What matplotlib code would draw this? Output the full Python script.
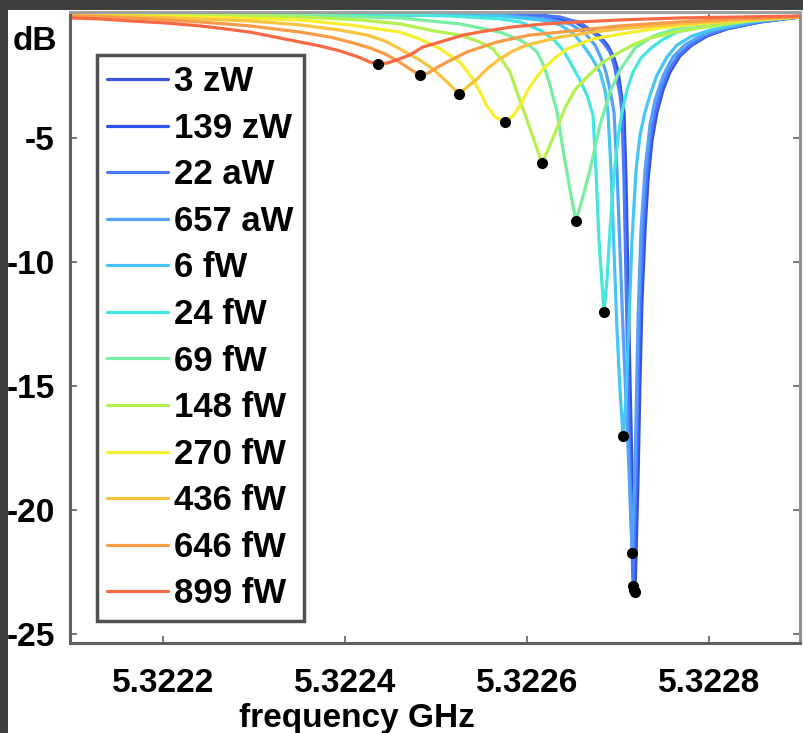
import matplotlib
matplotlib.use("Agg")
import matplotlib.pyplot as plt
from matplotlib.patches import Rectangle
import numpy as np

plt.rcParams['font.family'] = ['Liberation Sans', 'DejaVu Sans']
plt.rcParams['axes.unicode_minus'] = False

# frequencies stored as offset in kHz from 5.3222 GHz, transmission in dB
F_BASE = 5.3222

labels = ['3 zW', '139 zW', '22 aW', '657 aW', '6 fW', '24 fW', '69 fW',
          '148 fW', '270 fW', '436 fW', '646 fW', '899 fW']
colors = ['#3a55d8', '#3050f0', '#4a78f8', '#55a0f8', '#45c6f5', '#45e6e0',
          '#78eea0', '#b4f050', '#f8ee30', '#f8c440', '#f89c48', '#f86a45']

khz_3zw = [-102.2, 414.3, 456.0, 480.2, 489.0, 495.6, 500.0, 502.2, 504.4, 506.6, 508.8,
           511.0, 513.2, 515.4, 518.7, 522.0, 524.2, 526.4, 529.7, 533.0, 537.4, 542.9,
           549.5, 557.1, 568.1, 581.3, 597.8, 619.8, 656.0, 700.0]
db_3zw = [0, -0.04, -0.32, -0.89, -1.29, -1.77, -2.30, -2.86, -3.43, -3.95, -6.69,
          -10.73, -14.76, -18.39, -23.31, -18.79, -14.76, -11.53, -8.71, -6.69, -5.08, -3.95,
          -3.06, -2.34, -1.69, -1.25, -0.89, -0.60, -0.32, -0.12]

khz_139zw = [-102.2, 414.3, 452.7, 476.9, 486.8, 493.4, 497.8, 501.1, 503.3, 505.5, 507.7,
             509.9, 512.1, 514.3, 517.6, 520.9, 523.1, 525.3, 528.6, 531.9, 536.3, 541.8,
             548.4, 556.0, 567.0, 580.2, 596.7, 618.7, 656.0, 700.0]
db_139zw = [0, -0.04, -0.32, -0.85, -1.25, -1.65, -2.18, -2.74, -3.35, -3.95, -6.69,
            -10.73, -14.76, -18.39, -23.23, -18.79, -14.76, -11.53, -8.71, -6.69, -5.08, -3.95,
            -3.06, -2.34, -1.69, -1.25, -0.89, -0.60, -0.32, -0.12]

khz_22aw = [-102.2, 392.3, 436.3, 458.2, 472.5, 483.5, 491.2, 495.6, 498.9, 502.2, 504.4,
            506.6, 508.8, 511.0, 513.2, 516.5, 519.8, 522.0, 524.2, 527.5, 530.8, 535.2,
            540.7, 547.3, 554.9, 565.9, 579.1, 595.6, 617.6, 656.0, 700.0]
db_22aw = [0, 0, -0.12, -0.36, -0.73, -1.13, -1.53, -2.02, -2.62, -3.27, -3.95,
           -6.69, -10.73, -14.76, -18.39, -23.06, -18.79, -14.76, -11.53, -8.71, -6.69, -5.08,
           -3.95, -3.06, -2.34, -1.69, -1.25, -0.89, -0.60, -0.32, -0.12]

khz_657aw = [-102.2, 370.3, 419.8, 447.3, 463.7, 474.7, 481.3, 486.8, 491.2, 495.6, 498.9,
             502.2, 505.5, 508.8, 512.1, 515.4, 518.7, 522.0, 525.3, 529.7, 535.2, 540.7,
             549.5, 560.5, 573.6, 590.1, 606.6, 656.0, 700.0]
db_657aw = [0, -0.04, -0.20, -0.40, -0.77, -1.25, -1.77, -2.34, -3.06, -3.95, -6.29,
            -9.52, -12.74, -15.56, -18.39, -21.73, -18.39, -12.34, -8.71, -6.29, -4.48, -3.47,
            -2.50, -1.73, -1.25, -0.89, -0.65, -0.28, -0.12]

khz_6fw = [-102.2, 315.4, 370.3, 414.3, 436.3, 450.5, 461.5, 471.4, 480.2, 485.7, 489.0,
           492.3, 495.6, 498.9, 502.2, 505.5, 508.8, 512.1, 515.4, 519.8, 524.2, 529.7,
           535.2, 542.9, 553.9, 564.8, 581.3, 601.1, 645.0, 700.0]
db_6fw = [0, -0.04, -0.08, -0.24, -0.44, -0.77, -1.25, -1.77, -2.34, -3.06, -3.95,
          -6.29, -9.52, -12.74, -15.16, -17.02, -15.56, -12.34, -9.11, -6.29, -4.88, -3.95,
          -3.27, -2.46, -1.73, -1.25, -0.89, -0.65, -0.32, -0.12]

khz_24fw = [-102.2, 260.4, 315.4, 370.3, 392.3, 414.3, 428.6, 439.6, 447.3, 458.2, 465.9,
            472.5, 475.8, 479.1, 484.6, 487.9, 491.2, 495.6, 500.0, 504.4, 509.9, 516.5,
            525.3, 535.2, 548.4, 564.8, 601.1, 656.0, 700.0]
db_24fw = [0, -0.04, -0.08, -0.20, -0.32, -0.65, -1.01, -1.45, -1.94, -2.66, -3.27,
           -4.07, -6.29, -9.11, -12.02, -10.73, -8.71, -6.49, -5.00, -3.95, -3.06, -2.34,
           -1.77, -1.41, -1.05, -0.73, -0.44, -0.20, -0.08]

khz_69fw = [-102.2, 150.5, 260.4, 326.4, 370.3, 392.3, 403.3, 411.0, 418.7, 425.3, 433.0,
            439.6, 447.3, 453.8, 460.4, 469.2, 480.2, 491.2, 502.2, 518.7, 538.5, 559.4,
            582.4, 645.0, 700.0]
db_69fw = [0, -0.04, -0.16, -0.40, -0.73, -1.05, -1.29, -1.53, -2.10, -2.86, -3.95,
           -5.48, -7.10, -8.35, -7.50, -6.29, -4.48, -3.15, -2.26, -1.37, -0.89, -0.65,
           -0.44, -0.20, -0.08]

khz_148fw = [-102.2, 40.7, 150.5, 216.5, 260.4, 298.9, 326.4, 348.4, 362.6, 372.5, 381.3,
             390.1, 400.0, 408.8, 416.5, 425.3, 433.0, 441.8, 452.7, 465.9, 483.5, 502.2,
             518.7, 535.2, 562.6, 590.1, 645.0, 700.0]
db_148fw = [0, -0.04, -0.12, -0.24, -0.40, -0.69, -0.85, -1.13, -1.41, -1.85, -2.34,
            -3.27, -4.27, -5.20, -6.01, -5.28, -4.60, -3.79, -3.06, -2.54, -1.94, -1.53,
            -1.21, -0.97, -0.73, -0.56, -0.28, -0.12]

khz_270fw = [-102.2, 40.7, 150.5, 205.5, 260.4, 282.4, 304.4, 326.4, 339.6, 348.4, 356.0,
             364.8, 375.8, 384.6, 392.3, 401.1, 409.9, 417.6, 430.8, 444.0, 458.2, 472.5,
             502.2, 546.2, 612.1, 700.0]
db_270fw = [-0.04, -0.12, -0.24, -0.44, -0.73, -1.01, -1.41, -1.94, -2.58, -3.15, -3.71,
            -4.15, -4.35, -4.11, -3.71, -3.06, -2.58, -2.22, -1.77, -1.41, -1.21, -1.01,
            -0.81, -0.56, -0.32, -0.12]

khz_436fw = [-102.2, -14.3, 40.7, 95.6, 150.5, 194.5, 224.2, 244.0, 260.4, 280.2, 296.7,
             312.1, 320.9, 325.3, 333.0, 345.1, 357.1, 370.3, 384.6, 400.0, 436.3, 472.5,
             502.2, 568.1, 634.1, 700.0]
db_436fw = [-0.04, -0.12, -0.20, -0.28, -0.44, -0.65, -0.85, -1.09, -1.41, -1.81, -2.22,
            -2.74, -3.06, -3.23, -2.98, -2.62, -2.18, -1.81, -1.49, -1.25, -0.93, -0.73,
            -0.60, -0.40, -0.24, -0.12]

khz_646fw = [-102.2, -58.2, -14.3, 40.7, 95.6, 150.5, 183.5, 205.5, 227.5, 244.0, 258.2,
             271.4, 282.4, 291.3, 300.0, 312.1, 334.1, 367.0, 403.3, 458.2, 502.2, 568.1,
             634.1, 700.0]
db_646fw = [-0.08, -0.12, -0.20, -0.32, -0.48, -0.73, -0.93, -1.13, -1.37, -1.61, -1.90,
            -2.22, -2.46, -2.38, -2.18, -1.94, -1.53, -1.13, -0.85, -0.65, -0.48, -0.32,
            -0.20, -0.12]

khz_899fw = [-102.2, -69.2, -36.3, 2.2, 40.7, 68.1, 95.6, 123.1, 150.5, 172.5, 194.5,
             214.3, 227.5, 236.3, 246.2, 257.1, 271.4, 285.7, 304.4, 329.7, 353.8, 384.6,
             419.8, 458.2, 502.2, 568.1, 634.1, 700.0]
db_899fw = [-0.16, -0.20, -0.28, -0.36, -0.48, -0.60, -0.73, -0.93, -1.13, -1.29, -1.49,
            -1.73, -1.94, -2.02, -1.98, -1.85, -1.65, -1.33, -1.13, -0.85, -0.69, -0.52,
            -0.40, -0.32, -0.24, -0.16, -0.12, -0.08]

series_khz = [khz_3zw, khz_139zw, khz_22aw, khz_657aw, khz_6fw, khz_24fw,
              khz_69fw, khz_148fw, khz_270fw, khz_436fw, khz_646fw, khz_899fw]
series_db = [db_3zw, db_139zw, db_22aw, db_657aw, db_6fw, db_24fw,
             db_69fw, db_148fw, db_270fw, db_436fw, db_646fw, db_899fw]

xticks = [5.3222, 5.3224, 5.3226, 5.3228]
yticks = [-5, -10, -15, -20, -25]

fig = plt.figure(figsize=(8.04, 7.33), dpi=100)
fig.patch.set_facecolor('#3e3e3e')
fig.patches.append(Rectangle((8 / 804, 0), 1, (733 - 10) / 733, transform=fig.transFigure,
                             facecolor='white', edgecolor='none', zorder=-10))

ax = fig.add_axes([70 / 804, 90 / 733, 730 / 804, 631 / 733])

for khz, db, lab, col in zip(series_khz, series_db, labels, colors):
    f = F_BASE + np.array(khz) * 1e-6
    ax.plot(f, db, color=col, lw=2.3, label=lab,
            solid_joinstyle='round', solid_capstyle='round')

# black dots at the minimum of every trace
for khz, db in zip(series_khz, series_db):
    i = int(np.argmin(db))
    ax.plot(F_BASE + khz[i] * 1e-6, db[i], 'o', color='black', ms=7, zorder=5)

ax.set_xlim(F_BASE - 102.2e-6, F_BASE + 700e-6)
ax.set_ylim(-25.36, 0.08)
ax.set_xticks(xticks)
ax.set_xticklabels(['%.4f' % v for v in xticks])
ax.set_yticks(yticks)
ax.set_yticklabels(['%d' % v for v in yticks])

for s in ax.spines.values():
    s.set_color('#606060')
    s.set_linewidth(2.2)
ax.spines['right'].set_color('#909090')
ax.spines['top'].set_color('#a0a0a0')

ax.tick_params(direction='in', length=5, width=1.2, color='#606060',
               top=True, right=True, labelsize=24)
ax.tick_params(axis='x', pad=18)
ax.tick_params(axis='y', pad=11)
for t in ax.get_xticklabels() + ax.get_yticklabels():
    t.set_fontweight('bold')

leg = ax.legend(loc='upper left', bbox_to_anchor=(0.037, 0.932), borderaxespad=0,
                prop={'weight': 'bold', 'size': 25}, handlelength=1.75,
                handletextpad=0.18, labelspacing=0.39, borderpad=0.3,
                fancybox=False, framealpha=1)
leg.get_frame().set_edgecolor('#505050')
leg.get_frame().set_linewidth(2.5)

fig.text(35 / 804, (733 - 41) / 733, 'dB', fontsize=24, fontweight='bold',
         ha='center', va='center')
fig.text(357 / 804, (733 - 719) / 733, 'frequency GHz', fontsize=24, fontweight='bold',
         ha='center', va='center')

fig.savefig('out.png', dpi=100)
